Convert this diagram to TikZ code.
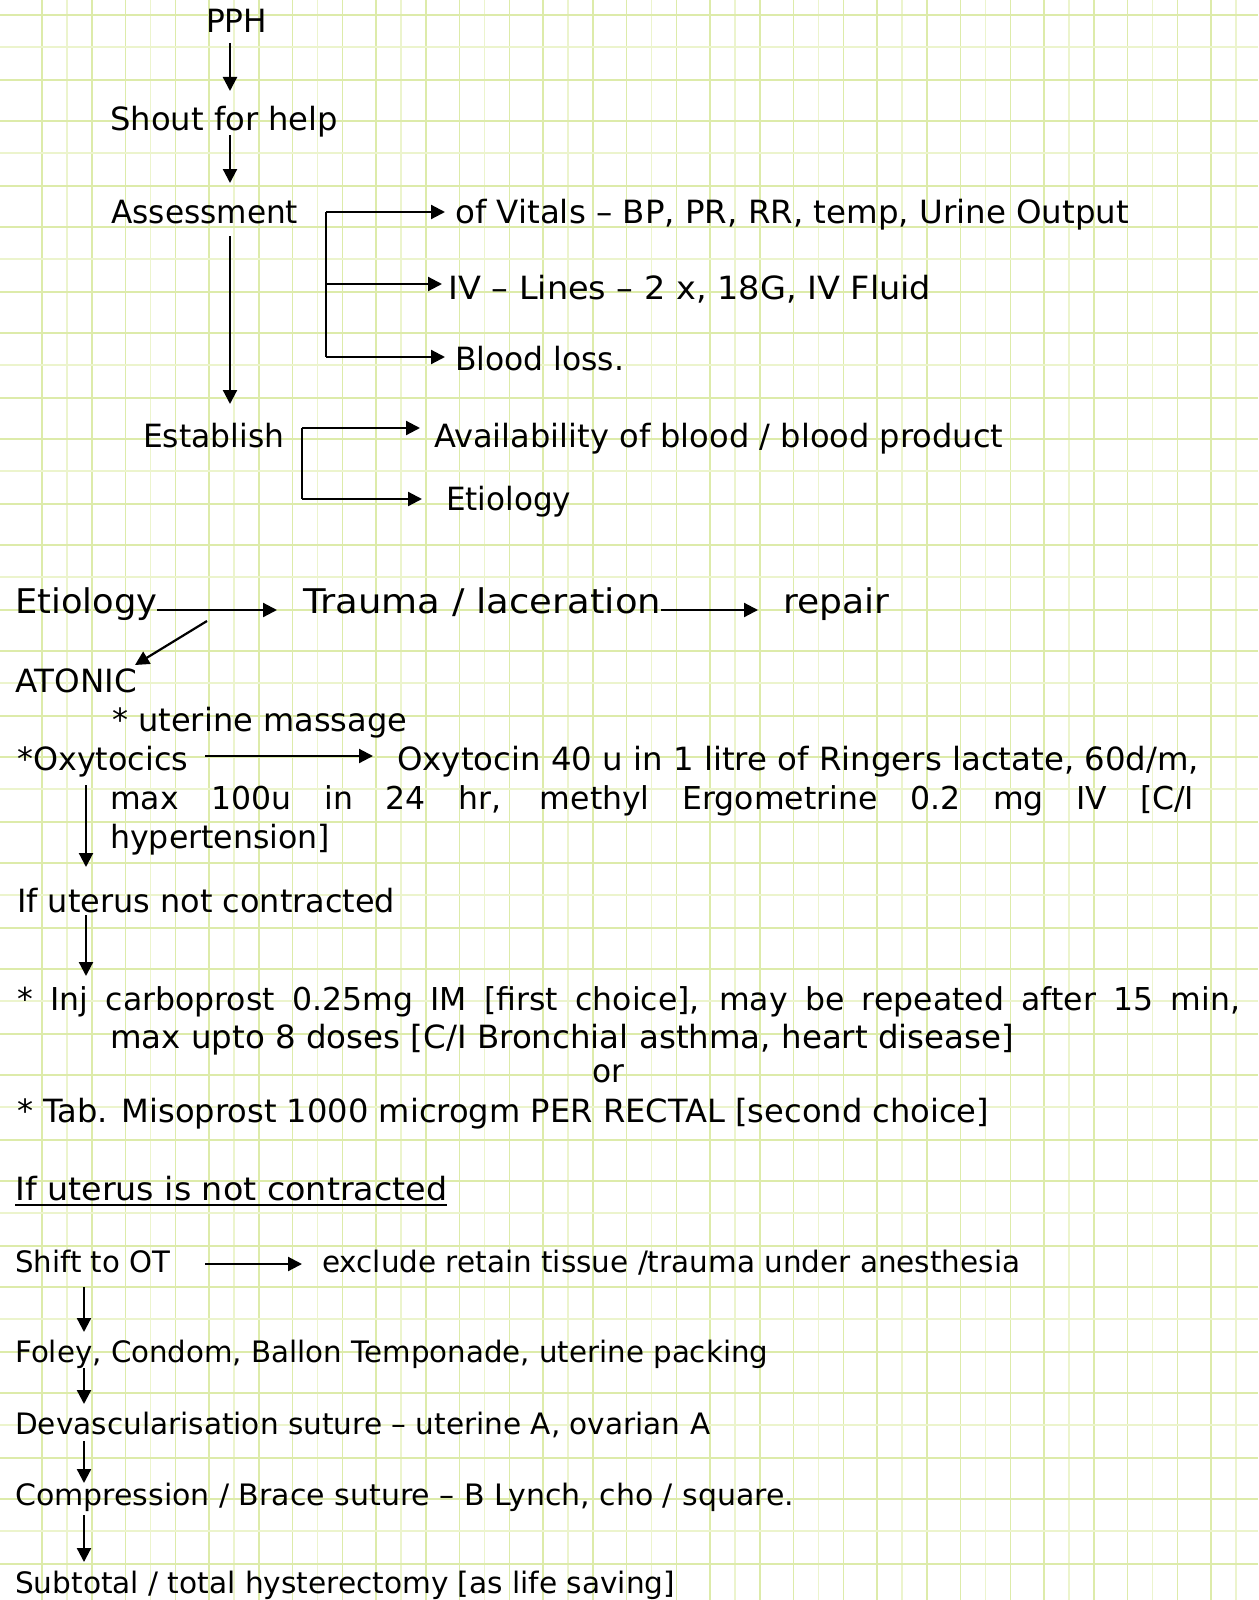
\documentclass[tikz,border=0pt]{standalone}
\usepackage{graphicx}
\usepackage{fontspec}
\setmainfont{DejaVu Sans}
\usetikzlibrary{arrows.meta,calc}
\definecolor{gridline}{RGB}{221,235,170}
\definecolor{gridfaint}{RGB}{236,244,205}
% set a line of text to a given width (horizontal scaling only)
\newcommand\fitw[2]{\resizebox{#1pt}{\height}{#2}}
\tikzset{
  txt/.style={anchor=base west, inner sep=0pt, font=\fontsize{32}{38}\selectfont},
  big/.style={txt, font=\fontsize{34}{40}\selectfont},
  small/.style={txt, font=\fontsize{29.5}{35}\selectfont},
  just/.style={txt, font=\fontsize{31.5}{37}\selectfont},
  link/.style={line width=2.2pt, -{Triangle[length=14pt,width=14pt]}},
  rail/.style={line width=2.2pt},
}
\begin{document}
\begin{tikzpicture}[x=1pt,y=-1pt]
\useasboundingbox (0,0) rectangle (1258,1600);
\fill[white] (0,0) rectangle (1258,1600);

% graph paper
\foreach \k in {0,...,15} {
  \draw[gridline, line width=1.6pt] ({42+83.5*\k},0) -- ++(0,1600);
  \draw[gridline, line width=1.6pt] ({92+83.5*\k},0) -- ++(0,1600);
  \draw[gridfaint, line width=1.2pt] ({67+83.5*\k},0) -- ++(0,1600);
}
\foreach \k in {0,...,15} {
  \draw[gridline, line width=1.6pt] (0,{15+106*\k}) -- ++(1258,0);
  \draw[gridline, line width=1.6pt] (0,{80+106*\k}) -- ++(1258,0);
  \draw[gridfaint, line width=1.2pt] (0,{47+106*\k}) -- ++(1258,0);
}

% ---- initial management ----
\node[txt] (pph) at (206,33) {\fitw{61}{PPH}};
\node[txt] (shout) at (110,131) {\fitw{228}{Shout for help}};
\node[txt] (assess) at (111,223) {\fitw{187}{Assessment}};
\node[txt] (vitals) at (455,223) {\fitw{674}{of Vitals – BP, PR, RR, temp, Urine Output}};
\node[txt] (iv) at (448,299) {\fitw{483}{IV – Lines – 2 x, 18G, IV Fluid}};
\node[txt] (loss) at (455,370) {\fitw{169}{Blood loss.}};
\node[txt] (establish) at (143,447) {\fitw{141}{Establish}};
\node[txt] (avail) at (434,447) {\fitw{569}{Availability of blood / blood product}};
\node[txt] (etio1) at (446,510) {\fitw{125}{Etiology}};

\coordinate (a1s) at (230,43);  \coordinate (a1e) at (230,91);
\coordinate (a2s) at (230,135); \coordinate (a2e) at (230,183);
\coordinate (a3s) at (230,236); \coordinate (a3e) at (230,404);
\draw[link] (a1s) -- (a1e);
\draw[link] (a2s) -- (a2e);
\draw[link] (a3s) -- (a3e);

% assessment bracket
\coordinate (b1) at (326,212);
\coordinate (b2) at (326,284);
\coordinate (b3) at (326,357);
\coordinate (b1e) at (445,212);
\coordinate (b2e) at (442,284);
\coordinate (b3e) at (445,357);
\draw[rail] (b1) -- (b3);
\draw[link] (b1) -- (b1e);
\draw[link] (b2) -- (b2e);
\draw[link] (b3) -- (b3e);

% establish bracket
\coordinate (c1) at (302,428);
\coordinate (c2) at (302,499);
\coordinate (c1e) at (420,428);
\coordinate (c2e) at (422,499);
\draw[rail] (c1) -- (c2);
\draw[link] (c1) -- (c1e);
\draw[link] (c2) -- (c2e);

% ---- etiology ----
\node[big] (etio2) at (15,613) {\fitw{142}{Etiology}};
\node[big] (trauma) at (303,613) {\fitw{358}{Trauma / laceration}};
\node[big] (repair) at (783,613) {\fitw{106}{repair}};
\node[txt] (atonic) at (15,692) {\fitw{122}{ATONIC}};
\coordinate (d0) at (157,610);  \coordinate (d0e) at (277,610);
\coordinate (d2) at (661,610);  \coordinate (d2e) at (758,610);
\draw[link] (d0) -- (d0e);
\draw[link] (d2) -- (d2e);
\coordinate (d1) at (207,621); \coordinate (d1e) at (135,665);
\draw[link] (d1) -- (d1e);

\node[txt] (massage) at (112,731) {\fitw{295}{* uterine massage}};
\node[txt] (oxy) at (17,770) {\fitw{171}{*Oxytocics}};
\node[txt] (oxytocin) at (397,770) {\fitw{802}{Oxytocin 40 u in 1 litre of Ringers lactate, 60d/m,}};
\node[just] (max1) at (110,809) {\makebox[1084pt][s]{max 100u in 24 hr, methyl Ergometrine 0.2 mg IV [C/I}};
\node[txt] (hyper) at (110,848) {\fitw{220}{hypertension]}};
\coordinate (e1) at (205,756); \coordinate (e1e) at (373,756);
\draw[link] (e1) -- (e1e);
\coordinate (e2) at (86,785); \coordinate (e2e) at (86,867);
\draw[link] (e2) -- (e2e);

\node[txt] (notc) at (17,912) {\fitw{378}{If uterus not contracted}};
\coordinate (f1) at (86,915); \coordinate (f1e) at (86,976);
\draw[link] (f1) -- (f1e);

\node[just] (inj) at (17,1010) {\makebox[1223pt][s]{* Inj carboprost 0.25mg IM [first choice], may be repeated after 15 min,}};
\node[txt] (maxdose) at (110,1048) {\fitw{904}{max upto 8 doses [C/I Bronchial asthma, heart disease]}};
\node[txt] (or) at (592,1082) {\fitw{32}{or}};
\node[txt] (tab) at (17,1122) {\fitw{972}{* Tab. Misoprost 1000 microgm PER RECTAL [second choice]}};

% ---- surgical steps ----
\node[txt] (head) at (15,1200) {\fitw{432}{If uterus is not contracted}};
\draw[line width=2.6pt] ($(head.base west)+(0,5)$) -- ($(head.base east)+(0,5)$);
\node[small] (ot) at (15,1272) {\fitw{155}{Shift to OT}};
\node[small] (excl) at (322,1272) {\fitw{698}{exclude retain tissue /trauma under anesthesia}};
\node[small] (foley) at (15,1362) {\fitw{753}{Foley, Condom, Ballon Temponade, uterine packing}};
\node[small] (devasc) at (15,1434) {\fitw{695}{Devascularisation suture – uterine A, ovarian A}};
\node[small] (comp) at (15,1505) {\fitw{779}{Compression / Brace suture – B Lynch, cho / square.}};
\node[small] (hyst) at (15,1593) {\fitw{660}{Subtotal / total hysterectomy [as life saving]}};

\coordinate (g1) at (205,1264); \coordinate (g1e) at (302,1264);
\draw[link] (g1) -- (g1e);
\coordinate (h1) at (84,1287); \coordinate (h1e) at (84,1332);
\coordinate (h2) at (84,1368); \coordinate (h2e) at (84,1404);
\coordinate (h3) at (84,1441); \coordinate (h3e) at (84,1483);
\coordinate (h4) at (84,1515); \coordinate (h4e) at (84,1562);
\draw[link] (h1) -- (h1e);
\draw[link] (h2) -- (h2e);
\draw[link] (h3) -- (h3e);
\draw[link] (h4) -- (h4e);
\end{tikzpicture}
\end{document}
